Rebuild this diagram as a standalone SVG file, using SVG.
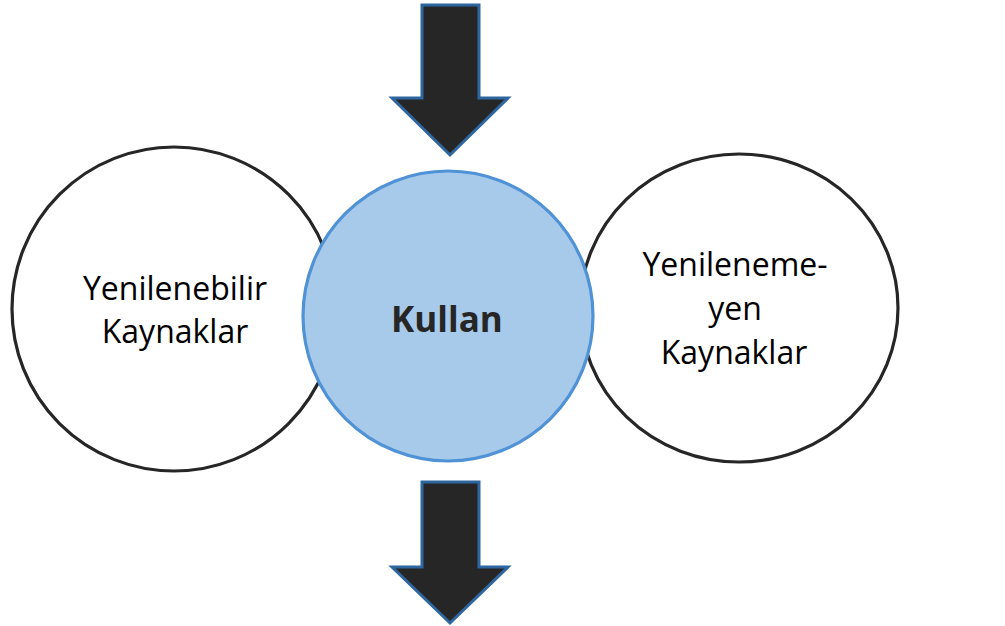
<svg xmlns="http://www.w3.org/2000/svg" width="1005" height="626" viewBox="0 0 1005 626">
  <style>
    .ring { fill: #ffffff; stroke: #262626; stroke-width: 3.2; }
    .hub { fill: #A7C9EA; stroke: #5092D6; stroke-width: 3.2; }
    .lbl { font-family: "Open Sans", "Noto Sans", "Liberation Sans", sans-serif; font-size: 32px; fill: #000000; text-anchor: middle; }
    .hubtxt { font-family: "Open Sans", "Noto Sans", "Liberation Sans", sans-serif; font-size: 35px; font-weight: bold; fill: #262626; text-anchor: middle; }
    .arrow { fill: #262626; stroke: #2E67A0; stroke-width: 3; stroke-linejoin: miter; }
  </style>
  <rect width="1005" height="626" fill="#ffffff"/>
  <g id="node-yenilenebilir">
    <ellipse class="ring" cx="174" cy="309" rx="162" ry="162"/>
    <text class="lbl" x="175" y="300">Yenilenebilir</text>
    <text class="lbl" x="175" y="343">Kaynaklar</text>
  </g>
  <g id="node-yenilenemeyen">
    <ellipse class="ring" cx="739" cy="308" rx="159" ry="154"/>
    <text class="lbl" x="735" y="276">Yenileneme-</text>
    <text class="lbl" x="735" y="320">yen</text>
    <text class="lbl" x="734" y="364">Kaynaklar</text>
  </g>
  <g id="node-kullan">
    <circle class="hub" cx="448" cy="316" r="145"/>
    <text class="hubtxt" x="447" y="332">Kullan</text>
  </g>
  <g id="connectors">
    <polygon class="arrow" points="422,5 479,5 479,98 508,98 450,155 392,98 422,98"/>
    <polygon class="arrow" points="422,482 479,482 479,567 508,567 450,623 392,567 422,567"/>
  </g>
</svg>
